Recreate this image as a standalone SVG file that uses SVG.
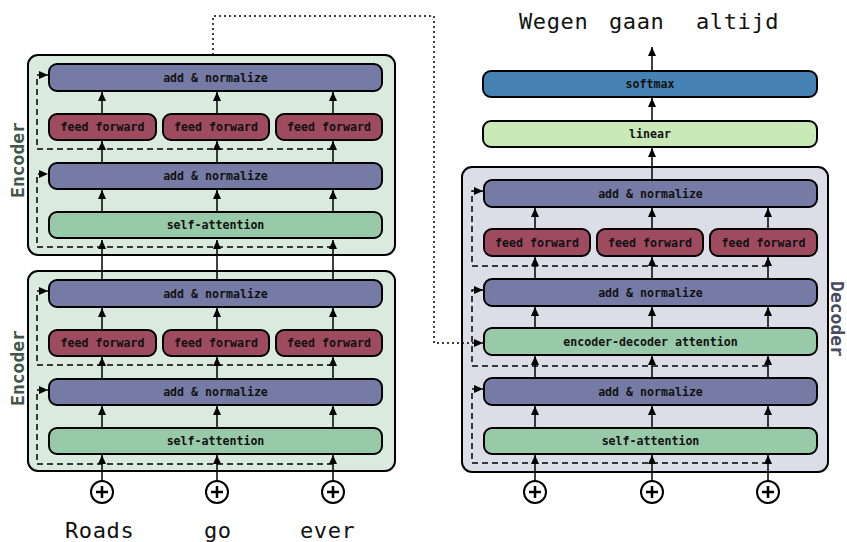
<svg xmlns="http://www.w3.org/2000/svg" width="847" height="542" viewBox="0 0 847 542">
<defs>
<marker id="ah" markerUnits="userSpaceOnUse" markerWidth="10" markerHeight="9" refX="9" refY="4" orient="auto">
<path d="M0,0 L9,4 L0,8 z" fill="#000"/>
</marker>
</defs>
<style>
.box{stroke:#000;stroke-width:2}
.enc{fill:#dbeadf}
.dec{fill:#dcdde6}
.an{fill:#767ba5}
.ff{fill:#9e4a5f}
.sa{fill:#98c9a9}
.lin{fill:#c9e9b6}
.sm{fill:#4681b4}
.lbl{font-family:"DejaVu Sans Mono","Liberation Mono",monospace;font-weight:bold;font-size:11.6px;fill:#111;text-anchor:middle;dominant-baseline:central}
.word{font-family:"DejaVu Sans Mono","Liberation Mono",monospace;font-size:22px;letter-spacing:0.6px;fill:#111}
.side{font-family:"DejaVu Sans Mono","Liberation Mono",monospace;font-weight:bold;font-size:18px;text-anchor:middle;dominant-baseline:central}
.arr{stroke:#000;stroke-width:1.5;fill:none;marker-end:url(#ah)}
.dash{stroke:#000;stroke-width:1.5;fill:none;stroke-dasharray:6 4;marker-end:url(#ah)}
.dot{stroke:#000;stroke-width:1.5;fill:none;stroke-dasharray:2 3;marker-end:url(#ah)}
.plus{fill:#fff;stroke:#000;stroke-width:2}
.pl{stroke:#000;stroke-width:2.5;fill:none}
</style>

<!-- Bottom encoder -->
<g id="encoder1">
<rect class="box enc" x="28" y="271" width="367" height="200" rx="10"/>
<text class="side" fill="#41574a" transform="translate(17,368) rotate(-90)">Encoder</text>
</g>
<g id="e1-an-top"><rect class="box an" x="49" y="280" width="333" height="27" rx="8"/><text class="lbl" x="215.5" y="293.5">add &amp; normalize</text></g>
<g id="e1-ff1"><rect class="box ff" x="49" y="330" width="107" height="26" rx="8"/><text class="lbl" x="102.5" y="343">feed forward</text></g>
<g id="e1-ff2"><rect class="box ff" x="163" y="330" width="106" height="26" rx="8"/><text class="lbl" x="216" y="343">feed forward</text></g>
<g id="e1-ff3"><rect class="box ff" x="276" y="330" width="106" height="26" rx="8"/><text class="lbl" x="329" y="343">feed forward</text></g>
<g id="e1-an-bot"><rect class="box an" x="49" y="379" width="333" height="26" rx="8"/><text class="lbl" x="215.5" y="392">add &amp; normalize</text></g>
<g id="e1-sa"><rect class="box sa" x="49" y="428" width="333" height="26" rx="8"/><text class="lbl" x="215.5" y="441">self-attention</text></g>

<!-- Top encoder -->
<g id="encoder2">
<rect class="box enc" x="28" y="55" width="367" height="200" rx="10"/>
<text class="side" fill="#41574a" transform="translate(17,160) rotate(-90)">Encoder</text>
</g>
<g id="e2-an-top"><rect class="box an" x="49" y="64" width="333" height="27" rx="8"/><text class="lbl" x="215.5" y="77.5">add &amp; normalize</text></g>
<g id="e2-ff1"><rect class="box ff" x="49" y="114" width="107" height="26" rx="8"/><text class="lbl" x="102.5" y="127">feed forward</text></g>
<g id="e2-ff2"><rect class="box ff" x="163" y="114" width="106" height="26" rx="8"/><text class="lbl" x="216" y="127">feed forward</text></g>
<g id="e2-ff3"><rect class="box ff" x="276" y="114" width="106" height="26" rx="8"/><text class="lbl" x="329" y="127">feed forward</text></g>
<g id="e2-an-bot"><rect class="box an" x="49" y="163" width="333" height="26" rx="8"/><text class="lbl" x="215.5" y="176">add &amp; normalize</text></g>
<g id="e2-sa"><rect class="box sa" x="49" y="212" width="333" height="26" rx="8"/><text class="lbl" x="215.5" y="225">self-attention</text></g>

<!-- Decoder -->
<g id="decoder">
<rect class="box dec" x="462" y="167" width="366" height="305" rx="10"/>
<text class="side" fill="#484b5f" transform="translate(837.5,319) rotate(90)">Decoder</text>
</g>
<g id="d-an1"><rect class="box an" x="484" y="180" width="333" height="27" rx="8"/><text class="lbl" x="650.5" y="193.5">add &amp; normalize</text></g>
<g id="d-ff1"><rect class="box ff" x="484" y="229" width="106" height="27" rx="8"/><text class="lbl" x="537" y="242.5">feed forward</text></g>
<g id="d-ff2"><rect class="box ff" x="597" y="229" width="106" height="27" rx="8"/><text class="lbl" x="650" y="242.5">feed forward</text></g>
<g id="d-ff3"><rect class="box ff" x="710" y="229" width="107" height="27" rx="8"/><text class="lbl" x="763.5" y="242.5">feed forward</text></g>
<g id="d-an2"><rect class="box an" x="484" y="279" width="333" height="27" rx="8"/><text class="lbl" x="650.5" y="292.5">add &amp; normalize</text></g>
<g id="d-eda"><rect class="box sa" x="484" y="328" width="333" height="27" rx="8"/><text class="lbl" x="650.5" y="341.5">encoder-decoder attention</text></g>
<g id="d-an3"><rect class="box an" x="484" y="378" width="333" height="27" rx="8"/><text class="lbl" x="650.5" y="391.5">add &amp; normalize</text></g>
<g id="d-sa"><rect class="box sa" x="484" y="428" width="333" height="26" rx="8"/><text class="lbl" x="650.5" y="441">self-attention</text></g>

<g id="linear"><rect class="box lin" x="483" y="121" width="334" height="26" rx="8"/><text class="lbl" x="650" y="134">linear</text></g>
<g id="softmax"><rect class="box sm" x="483" y="71" width="334" height="26" rx="8"/><text class="lbl" x="650" y="84">softmax</text></g>

<g id="connectors">
<!-- bottom encoder -->
<path class="arr" d="M102 481V455"/><path class="arr" d="M217 481V455"/><path class="arr" d="M333 481V455"/>
<path class="arr" d="M102 428V406"/><path class="arr" d="M217 428V406"/><path class="arr" d="M333 428V406"/>
<path class="arr" d="M102 379V357"/><path class="arr" d="M217 379V357"/><path class="arr" d="M333 379V357"/>
<path class="arr" d="M102 330V308"/><path class="arr" d="M217 330V308"/><path class="arr" d="M333 330V308"/>
<path class="dash" d="M333 464H37V390H48"/>
<path class="dash" d="M333 365H37V291H48"/>
<!-- between encoders -->
<path class="arr" d="M102 280V240"/><path class="arr" d="M217 280V240"/><path class="arr" d="M333 280V240"/>
<!-- top encoder -->
<path class="arr" d="M102 212V190"/><path class="arr" d="M217 212V190"/><path class="arr" d="M333 212V190"/>
<path class="arr" d="M102 163V141"/><path class="arr" d="M217 163V141"/><path class="arr" d="M333 163V141"/>
<path class="arr" d="M102 114V92"/><path class="arr" d="M217 114V92"/><path class="arr" d="M333 114V92"/>
<path class="dash" d="M333 247H37V174H48"/>
<path class="dash" d="M333 149H37V75H48"/>
<!-- encoder to decoder -->
<path class="dot" d="M213 55V16H434V343H483"/>
<!-- decoder -->
<path class="arr" d="M535 481V455"/><path class="arr" d="M652 481V455"/><path class="arr" d="M768 481V455"/>
<path class="arr" d="M535 428V406"/><path class="arr" d="M652 428V406"/><path class="arr" d="M768 428V406"/>
<path class="arr" d="M535 378V356"/><path class="arr" d="M652 378V356"/><path class="arr" d="M768 378V356"/>
<path class="arr" d="M535 328V307"/><path class="arr" d="M652 328V307"/><path class="arr" d="M768 328V307"/>
<path class="arr" d="M535 279V257"/><path class="arr" d="M652 279V257"/><path class="arr" d="M768 279V257"/>
<path class="arr" d="M535 229V208"/><path class="arr" d="M652 229V208"/><path class="arr" d="M768 229V208"/>
<path class="dash" d="M768 463H472V389H483"/>
<path class="dash" d="M768 366H472V290H483"/>
<path class="dash" d="M768 266H472V191H483"/>
<path class="arr" d="M652 180V148"/>
<path class="arr" d="M652 121V98"/>
<path class="arr" d="M652 71V47"/>
</g>

<g id="pos-embeddings">
<circle class="plus" cx="102" cy="492" r="11"/><path class="pl" d="M96 492H108M102 486V498"/>
<circle class="plus" cx="217" cy="492" r="11"/><path class="pl" d="M211 492H223M217 486V498"/>
<circle class="plus" cx="333" cy="492" r="11"/><path class="pl" d="M327 492H339M333 486V498"/>
<circle class="plus" cx="535" cy="492" r="11"/><path class="pl" d="M529 492H541M535 486V498"/>
<circle class="plus" cx="652" cy="492" r="11"/><path class="pl" d="M646 492H658M652 486V498"/>
<circle class="plus" cx="768" cy="492" r="11"/><path class="pl" d="M762 492H774M768 486V498"/>
</g>

<g id="words">
<text class="word" x="65" y="538">Roads</text>
<text class="word" x="204" y="538">go</text>
<text class="word" x="300" y="538">ever</text>
<text class="word" x="519" y="29">Wegen</text>
<text class="word" x="609" y="29">gaan</text>
<text class="word" x="696" y="29">altijd</text>
</g>
</svg>
